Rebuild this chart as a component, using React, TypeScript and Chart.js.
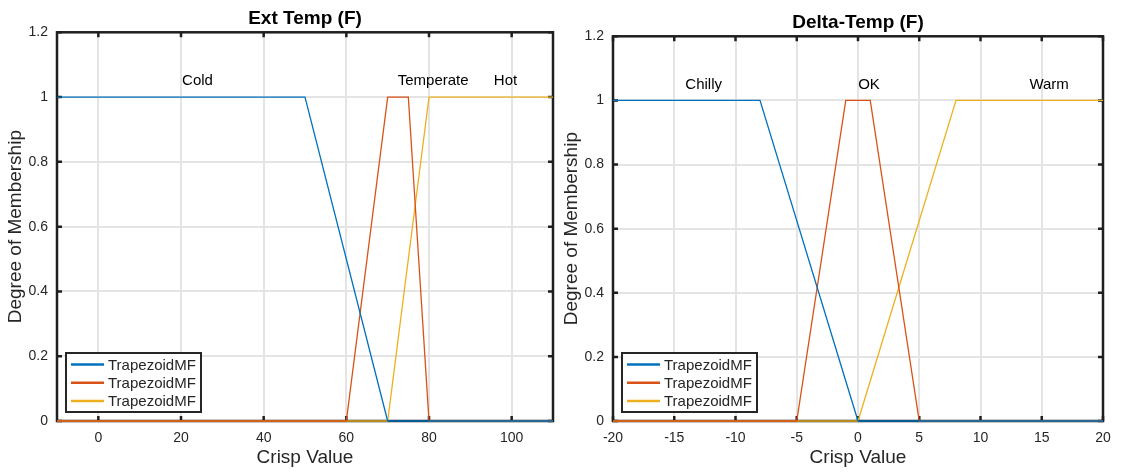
import React, { useEffect, useRef } from "react";
import { Chart, registerables } from "chart.js";

Chart.register(...registerables);

// ---------- data ----------
const seriesNames = ["TrapezoidMF", "TrapezoidMF", "TrapezoidMF"];
const seriesColors = ["#0072BD", "#D95319", "#EDB120"];
const yTicks = [0, 0.2, 0.4, 0.6, 0.8, 1, 1.2];
const labelY = 1.05;

// Ext Temp (F)
const extColdX = [-10, 50, 70, 110];
const extColdY = [1, 1, 0, 0];
const extTempX = [-10, 60, 70, 75, 80, 110];
const extTempY = [0, 0, 1, 1, 0, 0];
const extHotX = [-10, 70, 80, 110];
const extHotY = [0, 0, 1, 1];
const extXTicks = [0, 20, 40, 60, 80, 100];
const extMfNames = ["Cold", "Temperate", "Hot"];
const extMfNameX = [24, 81, 98.5];

// Delta-Temp (F)
const deltaChillyX = [-20, -8, 0, 20];
const deltaChillyY = [1, 1, 0, 0];
const deltaOkX = [-20, -5, -1, 1, 5, 20];
const deltaOkY = [0, 0, 1, 1, 0, 0];
const deltaWarmX = [-20, 0, 8, 20];
const deltaWarmY = [0, 0, 1, 1];
const deltaXTicks = [-20, -15, -10, -5, 0, 5, 10, 15, 20];
const deltaMfNames = ["Chilly", "OK", "Warm"];
const deltaMfNameX = [-12.6, 0.9, 15.6];

const FONT = "'Liberation Sans', Arial, Helvetica, sans-serif";
const TXT = "#262626";

type PanelSpec = {
  title: string;
  xs: number[][];
  ys: number[][];
  xMin: number;
  xMax: number;
  xTicks: number[];
  mfNames: string[];
  mfNameX: number[];
  pageLeft: number;
  width: number;
  yAxisWidth: number;
  padRight: number;
  titlePadTop: number;
  titlePadBottom: number;
  yTitlePadTop: number;
};

const panels: PanelSpec[] = [
  {
    title: "Ext Temp (F)",
    xs: [extColdX, extTempX, extHotX],
    ys: [extColdY, extTempY, extHotY],
    xMin: -10,
    xMax: 110,
    xTicks: extXTicks,
    mfNames: extMfNames,
    mfNameX: extMfNameX,
    pageLeft: 0,
    width: 560,
    yAxisWidth: 57,
    padRight: 7,
    titlePadTop: 7.5,
    titlePadBottom: 2,
    yTitlePadTop: 4.6,
  },
  {
    title: "Delta-Temp (F)",
    xs: [deltaChillyX, deltaOkX, deltaWarmX],
    ys: [deltaChillyY, deltaOkY, deltaWarmY],
    xMin: -20,
    xMax: 20,
    xTicks: deltaXTicks,
    mfNames: deltaMfNames,
    mfNameX: deltaMfNameX,
    pageLeft: 560,
    width: 563,
    yAxisWidth: 53,
    padRight: 20,
    titlePadTop: 11,
    titlePadBottom: 2.5,
    yTitlePadTop: 0.6,
  },
];

const HEIGHT = 472;

const framePlugin = {
  id: "matlabFrame",
  beforeDatasetsDraw(chart: any) {
    const { ctx, chartArea } = chart;
    const { left, right, top, bottom } = chartArea;
    const xs = chart.scales.x;
    const ys = chart.scales.y;
    ctx.save();
    ctx.strokeStyle = "#1f1f1f";
    ctx.lineWidth = 2.5;
    const tl = 5;
    for (const t of xs.ticks) {
      const px = xs.getPixelForValue(t.value);
      ctx.beginPath();
      ctx.moveTo(px, bottom);
      ctx.lineTo(px, bottom - tl);
      ctx.moveTo(px, top);
      ctx.lineTo(px, top + tl);
      ctx.stroke();
    }
    for (const t of ys.ticks) {
      const py = ys.getPixelForValue(t.value);
      ctx.beginPath();
      ctx.moveTo(left, py);
      ctx.lineTo(left + tl, py);
      ctx.moveTo(right, py);
      ctx.lineTo(right - tl, py);
      ctx.stroke();
    }
    ctx.lineWidth = 2.5;
    ctx.strokeRect(left, top, right - left, bottom - top);
    ctx.restore();
  },
  afterDatasetsDraw(chart: any, _args: any, opts: any) {
    const { ctx, chartArea } = chart;
    const xs = chart.scales.x;
    const ys = chart.scales.y;
    ctx.save();
    // membership function names
    ctx.font = `15px ${FONT}`;
    ctx.fillStyle = "#000";
    ctx.textAlign = "center";
    ctx.textBaseline = "middle";
    const names: string[] = opts.names || [];
    const nx: number[] = opts.namesX || [];
    names.forEach((n, i) => {
      ctx.fillText(n, xs.getPixelForValue(nx[i]), ys.getPixelForValue(labelY));
    });
    // legend box
    const bx = chartArea.left + 9;
    const bw = 135;
    const bh = 59;
    const by = chartArea.bottom - 9 - bh;
    ctx.fillStyle = "#fff";
    ctx.fillRect(bx, by, bw, bh);
    ctx.strokeStyle = "#262626";
    ctx.lineWidth = 2;
    ctx.strokeRect(bx, by, bw, bh);
    ctx.font = `15px ${FONT}`;
    ctx.textAlign = "left";
    ctx.textBaseline = "middle";
    chart.data.datasets.forEach((ds: any, i: number) => {
      const ry = by + 11.5 + i * 18.3;
      ctx.strokeStyle = ds.borderColor;
      ctx.lineWidth = 2.5;
      ctx.beginPath();
      ctx.moveTo(bx + 5, ry);
      ctx.lineTo(bx + 38, ry);
      ctx.stroke();
      ctx.fillStyle = TXT;
      ctx.fillText(ds.label, bx + 42, ry + 1);
    });
    ctx.restore();
  },
};

function Panel({ spec }: { spec: PanelSpec }) {
  const ref = useRef<HTMLCanvasElement | null>(null);
  useEffect(() => {
    if (!ref.current) return;
    const datasets = spec.xs.map((xv, i) => ({
      label: seriesNames[i],
      data: xv.map((x, j) => ({ x, y: spec.ys[i][j] })),
      borderColor: seriesColors[i],
      backgroundColor: seriesColors[i],
      borderWidth: 1.3,
      pointRadius: 0,
      tension: 0,
      clip: false as any,
    }));
    const chart = new Chart(ref.current, {
      type: "line",
      data: { datasets },
      options: {
        responsive: false,
        animation: false,
        devicePixelRatio: 1,
        layout: { padding: { left: 0, right: spec.padRight, top: 0, bottom: 0 } },
        plugins: {
          legend: { display: false },
          tooltip: { enabled: false },
          title: {
            display: true,
            text: spec.title,
            fullSize: false,
            color: "#000",
            font: { family: FONT, size: 19, weight: "bold" },
            padding: { top: spec.titlePadTop, bottom: spec.titlePadBottom },
          },
          matlabFrame: { names: spec.mfNames, namesX: spec.mfNameX },
        } as any,
        scales: {
          x: {
            type: "linear",
            min: spec.xMin,
            max: spec.xMax,
            afterBuildTicks: (s: any) => {
              s.ticks = spec.xTicks.map((v) => ({ value: v }));
            },
            afterFit: (s: any) => {
              s.height = 51;
            },
            grid: { color: "#e4e4e4", lineWidth: 2, drawTicks: false },
            border: { display: false },
            ticks: {
              padding: 9,
              color: TXT,
              font: { family: FONT, size: 14 },
              maxRotation: 0,
              autoSkip: false,
              callback: (v: any) => String(v),
            },
            title: {
              display: true,
              text: "Crisp Value",
              color: TXT,
              font: { family: FONT, size: 19 },
              padding: { top: 0, bottom: 3 },
            },
          },
          y: {
            type: "linear",
            min: 0,
            max: 1.2,
            afterBuildTicks: (s: any) => {
              s.ticks = yTicks.map((v) => ({ value: v }));
            },
            afterFit: (s: any) => {
              s.width = spec.yAxisWidth;
            },
            grid: { color: "#e4e4e4", lineWidth: 2, drawTicks: false },
            border: { display: false },
            ticks: {
              padding: 9,
              color: TXT,
              font: { family: FONT, size: 14 },
              autoSkip: false,
              callback: (v: any) => String(Math.round(Number(v) * 10) / 10),
            },
            title: {
              display: true,
              text: "Degree of Membership",
              color: TXT,
              font: { family: FONT, size: 19 },
              padding: { top: spec.yTitlePadTop, bottom: 0 },
            },
          },
        },
      } as any,
      plugins: [framePlugin],
    });
    return () => chart.destroy();
  }, [spec]);
  return (
    <canvas
      ref={ref}
      width={spec.width}
      height={HEIGHT}
      style={{
        position: "absolute",
        left: spec.pageLeft,
        top: 0,
        width: spec.width,
        height: HEIGHT,
      }}
    />
  );
}

export default function App() {
  return (
    <div
      style={{
        position: "absolute",
        left: 0,
        top: 0,
        width: 1123,
        height: HEIGHT,
        background: "#fff",
      }}
    >
      {panels.map((p, i) => (
        <Panel key={i} spec={p} />
      ))}
    </div>
  );
}
